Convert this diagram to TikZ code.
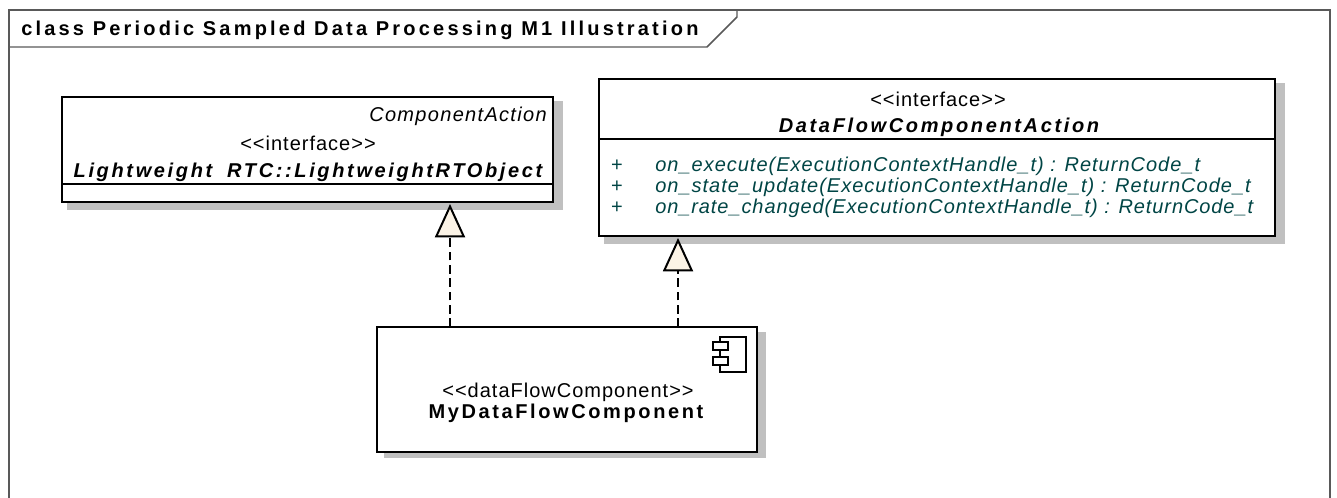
\documentclass[tikz,border=0pt]{standalone}
\usepackage{fontspec}
\setmainfont[LetterSpace=5]{Liberation Sans}
\newfontfamily\titlefont[LetterSpace=16]{Liberation Sans Bold}
\newfontfamily\namefont[LetterSpace=13.2]{Liberation Sans Bold Italic}
\newfontfamily\compfont[LetterSpace=13]{Liberation Sans Bold}
\newfontfamily\opfont[LetterSpace=5]{Liberation Sans Italic}
\newfontfamily\opfontb[LetterSpace=4.6]{Liberation Sans Italic}
\newfontfamily\cafont[LetterSpace=6.6]{Liberation Sans Italic}
\usetikzlibrary{arrows.meta,positioning}
\definecolor{opteal}{HTML}{004545}
\definecolor{shadowgrey}{HTML}{C0C0C0}
\definecolor{tipfill}{HTML}{FBF3E6}
\tikzset{
  x=0.75pt,y=-0.75pt,
  umlbox/.style={draw=black,line width=1.5pt,fill=white,rectangle,inner sep=0pt,outer sep=0pt,anchor=north west},
  boxshadow/.style={fill=shadowgrey,draw=none},
  divider/.style={draw=black,line width=1.3pt},
  framel/.style={draw=black!65,line width=1.1pt},
  lbl/.style={inner sep=0pt,font=\fontsize{15}{17}\selectfont},
  real/.style={dashed,dash pattern=on 6.5pt off 3.5pt,line width=1.6pt,
    -{Triangle[width=22.5pt,length=25pt,line width=1.5pt,fill=tipfill,sep=0pt]},shorten >=1.5pt},
  compicon/.style={draw=black,line width=1.2pt,fill=white},
}
\begin{document}
\begin{tikzpicture}
\useasboundingbox (0,0) rectangle (1337,498);
% frame
\draw[framel] (9,498) -- (9,10) -- (1330,10) -- (1330,498);
\draw[framel] (9,47) -- (707,47) -- (737,17) -- (737,10);
\node[lbl,anchor=west,font=\fontsize{15}{17}\titlefont] (title) at (21,30) {class Periodic Sampled Data Processing M1 Illustration};
% shadows
\fill[boxshadow] (67,101) rectangle (563,210);
\fill[boxshadow] (604,83) rectangle (1285,244);
\fill[boxshadow] (384,332) rectangle (766,458);
% boxes
\node[umlbox,minimum width=368.25pt,minimum height=78.75pt] (lw) at (62,97) {};
\node[umlbox,minimum width=507pt,minimum height=117.75pt] (dfca) at (599,79) {};
\node[umlbox,minimum width=285pt,minimum height=93.75pt] (comp) at (377,327) {};
\draw[divider] (62,184) -- (553,184);
\draw[divider] (599,139) -- (1275,139);
% left box text
\node[lbl,anchor=east,font=\fontsize{15}{17}\cafont] (ca) at (547,116) {ComponentAction};
\node[lbl] (i1) at (308,143) {<{}<interface>{}>};
\node[lbl,font=\fontsize{15}{17}\namefont] (n1) at (308,172) {Lightweight\hspace{5pt} RTC::LightweightRTObject};
% right box text
\node[lbl] (i2) at (938,99) {<{}<interface>{}>};
\node[lbl,font=\fontsize{15}{17}\namefont] (n2) at (939,127) {DataFlowComponentAction};
\node[lbl,text=opteal] (p1) at (617,166) {+};
\node[lbl,text=opteal] (p2) at (617,187) {+};
\node[lbl,text=opteal] (p3) at (617,208) {+};
\node[lbl,anchor=west,text=opteal,font=\fontsize{15}{17}\opfont] (o1) at (655,166) {on\_execute(ExecutionContextHandle\_t) : ReturnCode\_t};
\node[lbl,anchor=west,text=opteal,font=\fontsize{15}{17}\opfont] (o2) at (655,187) {on\_state\_update(ExecutionContextHandle\_t) : ReturnCode\_t};
\node[lbl,anchor=west,text=opteal,font=\fontsize{15}{17}\opfontb] (o3) at (655,208) {on\_rate\_changed(ExecutionContextHandle\_t) : ReturnCode\_t};
% component text
\node[lbl] (s3) at (568,392) {<{}<dataFlowComponent>{}>};
\node[lbl,font=\fontsize{15}{17}\compfont] (n3) at (566,413) {MyDataFlowComponent};
% icon
\draw[compicon] (720,337) rectangle (746,372);
\draw[compicon] (713,342) rectangle (728,350);
\draw[compicon] (713,357) rectangle (728,365);
% connectors
\coordinate (c1) at (450,327);
\coordinate (c2) at (678,327);
\draw[real] (c1) -- (c1 |- lw.south);
\draw[real] (c2) -- (c2 |- dfca.south);
\end{tikzpicture}
\end{document}
